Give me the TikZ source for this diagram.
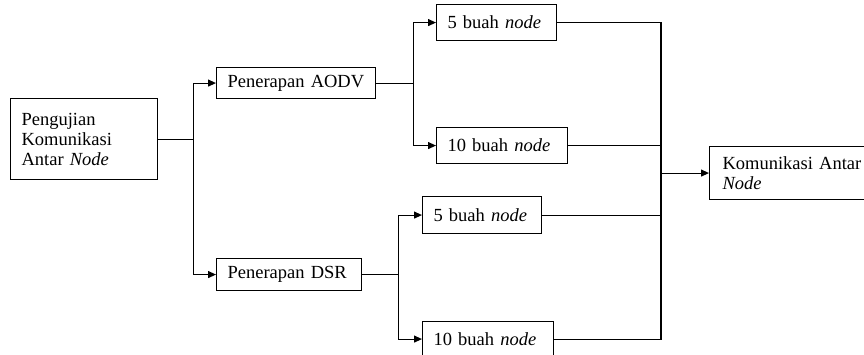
\documentclass[tikz,border=0pt]{standalone}
\usepackage{fontspec}
\setmainfont{Liberation Serif}
\usetikzlibrary{arrows.meta}
\begin{document}
\begin{tikzpicture}[x=1pt,y=-1pt,
  box/.style={draw, line width=1.1pt, anchor=north west, inner xsep=11pt, inner ysep=0pt,
    align=left, font=\fontsize{18.5}{20}\selectfont},
  conn/.style={line width=1.1pt},
  arr/.style={conn, -{Triangle[length=8pt,width=7pt]}}]
\useasboundingbox (0,0) rectangle (864,354);
\clip (0,0) rectangle (864,354);
\node[box, minimum width=147pt, minimum height=81pt, text width=125pt] (A) at (10,98) {\mbox{Pengujian}\\\mbox{Komunikasi}\\\mbox{Antar \textit{Node}}};
\node[box, minimum width=159pt, minimum height=31pt, text width=137pt] (B) at (216,67) {\mbox{Penerapan AODV}};
\node[box, minimum width=145pt, minimum height=32pt, text width=123pt] (C) at (216,258) {\mbox{Penerapan DSR}};
\node[box, minimum width=120pt, minimum height=36pt, text width=98pt] (D) at (436,4) {\mbox{5 buah \textit{node}}};
\node[box, minimum width=131pt, minimum height=36pt, text width=109pt] (E) at (436,127) {\mbox{10 buah \textit{node}}};
\node[box, minimum width=119pt, minimum height=37pt, text width=97pt] (F) at (422,196) {\mbox{5 buah \textit{node}}};
\node[box, minimum width=131pt, minimum height=35pt, text width=109pt] (G) at (422,321) {\mbox{10 buah \textit{node}}};
\node[box, inner xsep=13pt, minimum width=164pt, minimum height=53pt, text width=138pt] (H) at (709,146) {\mbox{Komunikasi Antar}\\\textit{Node}};
% left split
\draw[conn] (A.east) -- ++(35,0) coordinate (j1);
\draw[arr] (j1) |- (B.west);
\draw[arr] (j1) |- (C.west);
% AODV split
\draw[conn] (B.east) -- ++(37,0) coordinate (j2);
\draw[arr] (j2) |- (D.west);
\draw[arr] (j2) |- (E.west);
% DSR split
\draw[conn] (C.east) -- ++(36,0) coordinate (j3);
\draw[arr] (j3) |- (F.west);
\draw[arr] (j3) |- (G.west);
% merge
\path (H.west) ++(-48,0) coordinate (jr);
\draw[conn] (D.east) -| (jr);
\draw[conn] (E.east) -| (jr);
\draw[conn] (F.east) -| (jr);
\draw[conn] (G.east) -| (jr);
\draw[arr] (jr) -- (H.west);
\end{tikzpicture}
\end{document}
